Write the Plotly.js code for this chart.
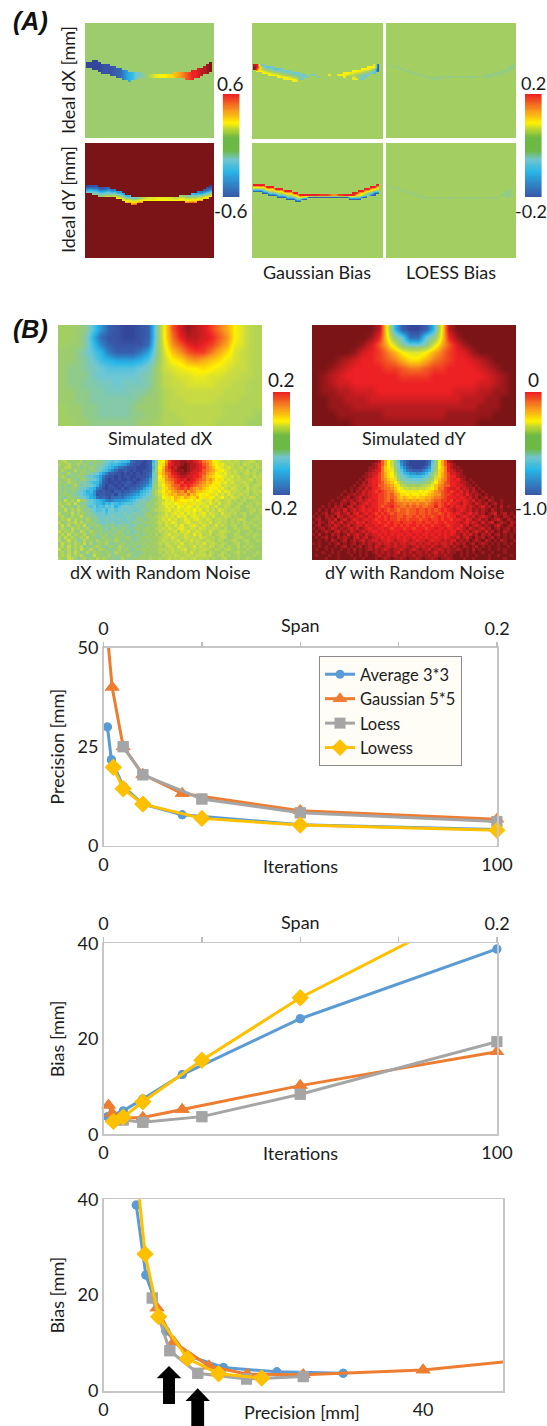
<!DOCTYPE html>
<html><head><meta charset="utf-8">
<script src="https://cdn.plot.ly/plotly-3.0.1.min.js"></script>
<style>html,body{margin:0;padding:0;background:#fff}#g{width:547px;height:1426px}</style>
</head><body><div id="g"></div>
<script>
// ---------- line-chart data ----------
const iterAverage=[1,2,5,10,20,50,100];
const iterGaussian=[1.27,2.2,5,10,20,50,100];
const iterLoess=[5,10,25,50,100];
const iterLowess=[2.5,5,10,25,50,100];
const precAverage=[30,21.7,15,10.5,7.8,5.3,4.1];
const precGaussian=[50.2,40,25,18,13.2,8.8,6.7];
const precLoess=[25,17.9,11.8,8.3,6.1];
const precLowess=[19.8,14.4,10.5,6.9,5.2,3.9];
const biasAverage=[3.7,4,4.9,7.4,12.5,24.2,38.8];
const biasGaussian=[6.1,4.4,3.4,3.5,5.2,10.2,17.3];
const biasLoess=[3,2.5,3.7,8.4,19.4];
const biasLowess=[2.7,3.6,6.8,15.5,28.6,49.7];
const seriesNames=['Average 3*3','Gaussian 5*5','Loess','Lowess'];
const spanTicks=[0,0.05,0.1,0.15,0.2];
const spanLabels=['0','','','','0.2'];

// ---------- image panels: one character per cell, 0-9a-z are colour levels 0..35, '.' is no data ----------
const idealDx=[
"..11......................................",
"11111....................................z",
"11111222................................yz",
"1111122223.............................xyz",
"..1112222334.........................wxxyz",
"....1222233468.....................vvwxxyz",
".....2222334689acde..........pqrstuvvwxxy.",
"........2334689acdefhjlmnnnoopqrstuvvwx...",
"..........34689acdefhjlmnnnoopqrstuvvw....",
"............689ac................tuv......",
"..............9..........................."];
const idealDy=[
"1222.....................................1",
"56552234................................24",
"9a99667856.............................358",
"cdccaabcab78.........................658ad",
"..efddefegcc8......................a9baefj",
"....ghjkilihd9a................hgedfehgkln",
"..........nmjfgcdghklllmmmmllkkmlkjkjmlpo.",
"............nlmjkmnnnnnnnnnnnnnoonnonrq...",
".............pqnorr..............rsts.....",
"...............st........................."];
const gaussDx=[
"xvdc....................................m3",
"zumebcc...............................nnn2",
"yrkggfcbcc..........................nnmje2",
".nnmjhgfeeccd....................nnmkigec4",
"...nnmkjhgfeeccd..............nnmljigfecb.",
".....nnnmkihgfedcd.ed....m..mnmkjhgfecc...",
"........nnnmkigedde..e........m..mhedc....",
"..........mnnnldd................mncc.....",
".............mm..........................."];
const gaussDy=[
"vvvv.....................................v",
"nnonvvv................................vvo",
"ddegnonvvv...........................vvonj",
"443adjhnonvvv......................vvonjdc",
"...33cbdjhnonvv..................vvonjdc33",
".....333cbdjhnovvvvvvvuuutrruuvvvvnnjdc33.",
"........333cbdjnjh33333333333333hdec33....",
"...........333cd33..............3333......",
"..............33.........................."];
const loessDx=[
"gg.......................................f",
".gfg....................................ff",
"...gfg.................................gfg",
".....gfg.............................gffg.",
".......gfg.........................gffg...",
".........gfg....................gfffgf....",
"...........gfgggfggffgggfggffgggffg.......",
"..............ffgf........................"];
const loessDy=[
"gg",
".gfg",
"...gfg..................................f.",
".....gfg...............................ff.",
".......gfg............................fff.",
".........gfg.........................gfffg.",
"...........gfgggfgggfggggfggfggggfgfg"];
const simDx=[
"hhgfb7321123dntwyxwusqnlji",
"hhge94221123dnsvxxwvtrnlji",
"hggea6322224emrtvwvusqmlji",
"ggfdb9533358elprtuusqolkji",
"ggfeca98889bfknoqrqpomlkji",
"gffedcbbbbcdgklmnnonmlkkji",
"gfffdcccccdegjkllmmllkkjji",
"gffeeddcdddegjkkllllkkjjii",
"ggffeedddeefgijkkkkkkjjjii",
"ggffeeeeeefggijjkkkkjjjiii",
"hggffeeeefgggijjjjjjjiiiii",
"hggffeeeeffggiijjjjjjiiiih",
"hhggffffffgghiiijjjjiiiihh"];
const simDy=[
"zzzzzzzzxna3113anxzzzzzzzz",
"zzzzzzzyvofc44cfovyzzzzzzz",
"zzzzzzywtqleccelqtwyzzzzzz",
"zzzzzywvusqnllnqsuvwyzzzzz",
"zzzyxwvvutsqooqstuvvwxyzzz",
"zzyxwvvvvuutsstuuvvvvwxyzz",
"zyxwvvvvvvvuuuuvvvvvvvwxyz",
"zyxwwvvvvvvvvvvvvvvvvwwxyz",
"zyyxxwwwvvvvvvvvvvwwwxxyyz",
"zzyyxxxwwwwwwwwwwwwxxxyyzz",
"zzyyyxxxxxxxxxxxxxxxxyyyzz",
"zzzyyyyyyxxxxxxxxyyyyyyzzz",
"zzzzzyyyyyyyyyyyyyyyyzzzzz"];
const noisyDx=[
"hijgfhgiehfgf gedcbcbaa9 4322123a emnr uwxxyyxxwvusrq nmlkjkikjhijkjhi",
"ighjfgifhgegf edcbaa9875 3221123b fmos vwxxyzyxxwvtsq onlmkjkijhkjiijh",
"hgijgfhegfhfe ecba975432 2211123a gnpt vxwyzzyxxwvusr pnmlkljijkhijhji",
"gihfgjfghegfe dba8642232 1211223b hmqt uwxyyzyxwwvtsr qomnlkjkijikhjig",
"hfgiegfhgfedc a863322121 2121234c goqs tvwxyyxwwvutrq pnmlmkjkihjkijhi",
"gihegfhgedcba 8532212122 1122235c fnpr tuvwxxwwvvusqp onnmlkljkiijhkij",
"fghigfeghedcb 8421212112 1212347d gmor stuvwvxwvutsqr pnomklkjkjijkhji",
"hgfighfeedbaa 7321121223 2123458e gloq rsuvuwvvutsrpq onmlmkljijkjihij",
"gfhegifdfdcb9 5312212132 2234579f hlnp qsttvuvutsrqpo nomklkjkjijkhjji",
"hegfhgedcba95 4212221312 33458abf hkmo qrstutusrqrpon mnlmkjlkijhkijih",
"gfhegfdcb9a73 2322133233 4569abcg ilnp oqrsrtqsrppomn mlnkmljkjijkhjij",
"fghgfedcba972 3322314345 678abcdg ikmo pqprrqspqonmno lmkljlkijkijhijh",
"gfehfgedcb984 3432445467 89abcdef hjnm onqpoqpooqnmon mklnkjlkjhjikjhi",
"hfkgiflhgdcba 9865677889 abcdedfg hjkm lmponnmnlnmklm jlkijkijhijghiih",
"ighjfkgefdcba a8a9ba9abb bcdeefgf ijlm mlnmomlomlmlkm kjlijkihijghihji",
"gjfhgeifgdbca bacbc9bccd cdedegfg hjkm lmknmlnmkmklmj kliikjhijhgjihih",
"hgkfigjhegdcb bcacdbcdcd dcdefegh ijkl mklmlmmlnlmklj kilkjijiihghijhi",
"jfhgkfihgefdc cdbcdcdcec deedfggf hijl klmlmkmlmklmjl kjiljjijhijgihhi",
"hjgfighkfgefd dcdcedcdde edfefghg ijkl klkmlmjlmlklkj liijkjhihgjhghih",
"gihkfjghfigef cdedcdedce defgefgh hjlk mkljkmlklmkjlk ijkijhihjkighiih",
"jgfihkgjfhgfe dcededcedd efefgghg ikjl kmljklmkjklkjl ijkijhjhigjhihgi",
"hkgjfhigkegfh fdfegdfefe defgegfh hjil kjlkmjklmkjlki jlikihijghjihiih",
"gjhfkgifhjegf gefdgfegfe efgfghgg ijkj lkjlmkjlkjlkij kjihjghjihijhghi",
"kgihjfgkhfigf hefgefhfeg deffghgh hjik jklilkmjklkjil ihjkjighjhghighg",
"hjgkfihgjfghe gfhefgfhef efgegfhg ihjk ljkkjlkjmklijk hijkighjighihiih",
"igkhjfgihkfge fhgfehgfgh fefgghgh hijk jlkijlkjkilkji jhikjghiijhghihg",
"jfhkgiefjghfi gfhgfigegf gefggfhg hikj ikjlikjljkjikj ihjighijhgijghih",
"gkhifjhgkfieg hgifegfhge gfgfhggh hjik jikjlijkikjlij kihjighijghihhgh",
"hjfkgihjegfhi gfehgfihfg fgegfhgh gihj kjilkjijlikjik jhijgihhjgihihhg",
"kghjfigkhfjgf ihgfegifhg efgghghg hiji jkijklijkijkji hjigijhgihgihhgg",
"hifjgkhegjfih gfhgeihgfg fgefhggh gihj ikjijkiljikjhj ihgjighijhighgih",
"gjhkfihjgefkg hfgiegfhgi gefghghg hgji jikjijkjikjkik hgijhighihghgihh",
"ihfkjgehifhgj gihfgefigf fgghggih hihi kijikjijkijijh ihgijghhighihggh"];
const noisyDy=[
"zzzzzzzzzzzzzzzzzzzz yxtqn kfb6421111124bf nqtxy zzzzzzzzzzzzzzzzzzzz",
"zzzzzzzzzzzzzzzzzzzy xvtqn kfc7421111125cf nqtvx yzzzzzzzzzzzzzzzzzzz",
"zzzzzzzzzzzzzzzzzzyy xvspn lgc9632111247cg npsvx yyzzzzzzzzzzzzzzzzzz",
"zzzzzzzzzzzzzzzzzzyx wvspo mhdb854333579dh opsvw xyyzzzzzzzzzzzzzzzzz",
"zzzzzzzzzzzzzzzzzyxw wusqo nieca977678acfi oqsuw wxyzzzzzzzzzzzzzzzzz",
"zzzzzzzzzzzzzzzzyyxw vusqo nkfdcbaaaabcdgk oqsuv vxyyzzzzzzzzzzzzzzzz",
"zzzzzzzzzzzzzzzyzxwv vusrp olheddccccdefhl prsuv wvxyzyzzzzzzzzzzzzzz",
"zzzzzzzzzzzzzzyzxywv vutrq pnkhfeeeeefghkn qrtuv vwxxyzyzzzzzzzzzzzzz",
"zzzzzzzzzzzzzyzyxxwv vttsr qomjihghghijkmp rsttv vwwxyyzyzzzzzzzzzzzz",
"zzzzzzzzzzzzyzyxywxv vutss rpnmkkjkjkklmnp ssuvw wvxwxyxzyzzzzzzzzzzz",
"zzzzzzzzzzyzyzxywxwv uvuts sqonnmmmmnmnopr stuvu vwvxwyxyzyzzzzzzzzzz",
"zzzzzzzzzyzyyxyxwxwv vuuts trqoononnonopqr rtuuv wvwxvxyxyzyzzzzzzzzz",
"zzzzzzzzyzyxzyxwyxwv vuuts tsqpqpopoppqqrs stuvv vwvwxwyxzyxzyzzzzzzz",
"zzzzzzyzzyxyxyxwxwvw vuuts usrqrqrqrqqrrst tuuvu wvwvwxwyxyzxyzzyzzzz",
"zzzzzyzyzxyzxwyxwvwv vuutu utssrsrsrssrstu tuvuv vwxvwxywxyxzyxzyzzzz",
"zzzyzyzxyxzxwyxwvxwv vutuu vttsstststssttv tuvwv wvwvxwxyxwyxzyzxzyzz",
"zzyzyzxyxywyxwxwvwvw vuvututsttsttuttututuvu vwxwvwxwyxyxyzxyzyzz",
"zyzyxzyxwyxwywvxwvwv uvuvututttsttuttutuutuvuv wvwxwvxwyxzyxwzyxzyz",
"yzyzxyxzwxyxwxwvwxvw vuvuvuuttuttututuutuvuvuv vxwvwxwyxwxyzxyzxyzy",
"zyxzyxywzxwyxvwxwvwv uvvuvuutuutuuutuuvuuvuvvu wvwxvwyxwyxzyxwyzxyz",
"yzxyzxwyxwyxwxvwvxwv vuvvuvuuvuuuvuuvuuvuvvuvv vwxwvxwxywyxwzyxyzxy",
"zyxzyxywxyxwyxwwxvww vwvuvvuvuvuvvuvuvvuvvwvuv wwvxwyxwxyxyzxwyzyxz",
"yzyxzywxyxyxwxwyxwvw wvvwvuvvvuvvuvvvuvvwvvwvv wvwxywxyxwyxzyxzyxzy",
"zyzyxyzxwyxywxyxwxwv vwvvwvvvwvvwvvvwvvwvvwvwv vxwxwyxwxywyxzyzxyzy",
"yzxzyzxyxzywyxwxywxw wvwvwvwvvwvvwvwvvwvwvwvwv wxywxwyxzxyxzyxzyzyz",
"zyzyxzyzxyxyzxwyxwyx wwvwvwwvwvwwvwvwvwwvwwvwx xwyxwyzxyxzyxzyzyzyz",
"zzyzyzxyzyxzyxyxwyxw wxwwvwxwwvwxwvwwxwvwwxwxw wyxyxzyxyzxyzyzxyzzy",
"yzyzzyzyxzyzyxzyxyxy xwxwwxwxwwxwwxwxwwxwxwwxw yxyxzyxzyxyzyzyzyzyz",
"zzyzyzzyzyxzyzyxzyxy wxyxwxwxxwxyxwxwxxwxyxwxy xyzxyzyxzyzyzzyzzyzz",
"zyzzyzyzzyzyzxzyzyxy xyxwxyxxwxyxwxyxxwyxwxyxy yxyzyzxzyzzyzzyzyzzz",
"zzzyzzyzyzzyzyzyzyzy xyxyxyxwyxyxyxxyxyxwyxyxy yzyzyzyzzyzzyzzzyzzz",
"zyzzzyzzyzzzyzzyzyzz yxyyxyxyyxyyxyxyyxyxyyxyy zzyzyzzyzzzyzzyzzzyz",
"zzzzyzzzyzzzzyzzyzzz yzyxyzyyxyzyyxyzyyxyzyyxy zzzyzzyzzzzyzzzzyzzz"];
const barLevels=[0,1,2,3,4,5,6,7,8,9,10,11,12,13,14,15,16,17,18,19,20,21,22,23,24,25,26,27,28,29,30];

const W=547,H=1426;
const panelScale=[[0,'#2b3a8e'],[2,'#3953a4'],[6,'#2e85c8'],[9,'#27b5e8'],[12,'#6cc7d6'],[14,'#84c9a8'],[16,'#9ccc6e'],[17,'#a3cf62'],[20,'#c9db43'],[23,'#fff200'],[27,'#f7941d'],[31,'#ed2024'],[33,'#b81b1f'],[35,'#7a1416']].map(s=>[s[0]/35,s[1]]);
const barScale=[[0,'#3953a4'],[.25,'#27b5e8'],[.37,'#72c6cb'],[.45,'#6cb945'],[.58,'#6cb945'],[.67,'#c4d92e'],[.72,'#fff200'],[.85,'#f7941d'],[1,'#ed2024']];
const FONT='Lato,"Noto Sans",sans-serif';
const INK='#1c1c1c';

function parseGrid(rows,fillLast){
  const key='0123456789abcdefghijklmnopqrstuvwxyz';
  const clean=rows.map(r=>r.replace(/ /g,''));
  const n=Math.max(...clean.map(r=>r.length));
  return clean.map(r=>{const a=[];for(let i=0;i<n;i++){const ch=i<r.length?r[i]:(fillLast?r[r.length-1]:'.');const k=key.indexOf(ch);a.push(k<0?null:k);}return a;});
}

const layout={width:W,height:H,margin:{l:0,r:0,t:0,b:0},paper_bgcolor:'#fff',plot_bgcolor:'rgba(0,0,0,0)',showlegend:true,
  font:{family:FONT,size:18,color:INK},annotations:[],shapes:[],
  legend:{x:319/W,y:1-656/H,xanchor:'left',yanchor:'top',bgcolor:'#fffdf6',bordercolor:'#8a8a8a',borderwidth:1,font:{family:FONT,size:16.5,color:INK},itemwidth:30,entrywidth:108,entrywidthmode:'pixels',traceorder:'normal'}};
const traces=[];
let axN=0;
function addAxes(L,R,T,B,xr,yr){
  axN++;
  const xk='xaxis'+axN,yk='yaxis'+axN;
  layout[xk]={domain:[L/W,R/W],range:xr,visible:false,anchor:'y'+axN,fixedrange:true};
  layout[yk]={domain:[1-B/H,1-T/H],range:yr,visible:false,anchor:'x'+axN,fixedrange:true};
  return axN;
}
function hm(n,z,opt){
  traces.push(Object.assign({type:'heatmap',z:z,xaxis:'x'+n,yaxis:'y'+n,colorscale:panelScale,zmin:0,zmax:35,showscale:false,hoverinfo:'skip',showlegend:false},opt));
}
function panel(L,R,T,B,bg,g){
  const n=addAxes(L,R,T,B,[0,R-L],[B-T,0]);
  if(bg!==null) hm(n,[[bg]],{x:[0,R-L],y:[0,B-T]});
  hm(n,parseGrid(g.r,g.fill),{x0:g.x0+g.cw/2,dx:g.cw,y0:g.y0+g.ch/2,dy:g.ch,zsmooth:g.smooth?'best':false});
  return n;
}
function label(t,cx,cy,size,rot,extra){
  layout.annotations.push(Object.assign({text:t,x:cx/W,y:1-cy/H,xref:'paper',yref:'paper',xanchor:'center',yanchor:'middle',showarrow:false,textangle:rot||0,font:{family:FONT,size:size||18,color:INK}},extra||{}));
}
function colorbar(L,R,T,B){
  const n=addAxes(L,R,T,B,[0,1],[0,barLevels.length-1]);
  traces.push({type:'heatmap',z:barLevels.map(v=>[v,v]),x:[0,1],y:barLevels,xaxis:'x'+n,yaxis:'y'+n,colorscale:barScale,zmin:0,zmax:30,zsmooth:'best',showscale:false,hoverinfo:'skip'});
}

// (A)
panel(85,214,23,138,16,{r:idealDx,x0:1,y0:37,cw:3,ch:2,smooth:true});
panel(85,214,143,258,35,{r:idealDy,x0:1,y0:42,cw:3,ch:2,smooth:true});
panel(252,383,23,139,17,{r:gaussDx,x0:1,y0:41,cw:3,ch:2,smooth:true});
panel(252,383,143,258,17,{r:gaussDy,x0:1,y0:41,cw:3,ch:2,smooth:true});
panel(386,516,23,138,17,{r:loessDx,x0:2,y0:41,cw:3,ch:2,smooth:true});
panel(386,516,143,258,17,{r:loessDy,x0:2,y0:42,cw:3,ch:2,smooth:true});
colorbar(222.6,239.7,94,197);
colorbar(525,541.6,94,197);
// (B)
panel(58,262,325,426,null,{r:simDx,x0:0,y0:0,cw:204/26,ch:101/13,smooth:true});
panel(312,516,325,426,null,{r:simDy,x0:0,y0:0,cw:204/26,ch:101/13,smooth:true});
panel(58,262,460,560,null,{r:noisyDx,x0:0,y0:0,cw:204/65,ch:100/33,fill:true});
panel(312,516,460,560,null,{r:noisyDy,x0:0,y0:0,cw:204/65,ch:100/33,fill:true});
colorbar(273,290,392,495);
colorbar(525,541.6,392,495);

const headF={font:{family:'"Liberation Sans",sans-serif',size:25,color:'#111'}};
label('<b><i>(A)</i></b>',30,21,25,0,headF);
label('<b><i>(B)</i></b>',30,329,25,0,headF);
label('Ideal dX [mm]',68,80,18,-90);
label('Ideal dY [mm]',68,200,18,-90);
label('Gaussian Bias',317,272,18);
label('LOESS Bias',451,272,18);
label('0.6',230.6,83,19); label('-0.6',230.6,210.7,19);
label('0.2',533,83,18);   label('-0.2',531,210.7,18);
label('0.2',281,380,19);  label('-0.2',281,508,19);
label('0',533,380,19);    label('-1.0',531,508,18);
label('Simulated dX',160,438,18);
label('Simulated dY',414,438,18);
label('dX with Random Noise',160,572,18);
label('dY with Random Noise',414,572,18);

// line charts
const palette=['#5b9bd5','#ed7d31','#a5a5a5','#ffc000'];
const symbols=['circle','triangle-up','square','diamond'];
const sizes=[9,13,11,13];
function chart(L,R,T,B,xr,yr,xt,yt,ytitle,xs,ys,legend,span){
  axN++; const n=axN;
  const tickF={family:FONT,size:18,color:INK};
  layout['xaxis'+n]={domain:[L/W,R/W],range:xr,anchor:'y'+n,tickvals:xt,ticktext:xt.map(String),ticks:'',showgrid:false,zeroline:false,showline:true,mirror:true,linecolor:'#c6c6c6',linewidth:1.5,tickfont:tickF,fixedrange:true,ticklabelstandoff:2};
  layout['yaxis'+n]={domain:[1-B/H,1-T/H],range:yr,anchor:'x'+n,tickvals:yt,ticktext:yt.map(String),ticks:'',showgrid:false,zeroline:false,showline:true,mirror:true,linecolor:'#c6c6c6',linewidth:1.5,tickfont:tickF,fixedrange:true,title:{text:ytitle,font:{family:FONT,size:18,color:INK},standoff:8}};
  xs.forEach((x,i)=>{
    const base={x:x,y:ys[i],xaxis:'x'+n,yaxis:'y'+n,type:'scatter',name:seriesNames[i],hoverinfo:'skip',
      marker:{color:palette[i],symbol:symbols[i],size:sizes[i],line:{width:0}},line:{color:palette[i],width:3}};
    traces.push(Object.assign({},base,{mode:'lines+markers',showlegend:legend,cliponaxis:true}));
    traces.push(Object.assign({},base,{mode:'markers',showlegend:false,cliponaxis:false}));
  });
  if(span){
    axN++; const m=axN;
    layout['xaxis'+m]={overlaying:'x'+n,anchor:'y'+n,side:'top',domain:[L/W,R/W],range:[0,0.2],tickmode:'array',tickvals:spanTicks,ticktext:spanLabels,ticks:'outside',ticklen:5,tickwidth:1.5,tickcolor:'#bdbdbd',showgrid:false,zeroline:false,showline:false,tickfont:tickF,fixedrange:true};
    traces.push({x:[0,0.2],y:[null,null],xaxis:'x'+m,yaxis:'y'+n,type:'scatter',mode:'lines',showlegend:false,hoverinfo:'skip'});
  }
}
const iters=[iterAverage,iterGaussian,iterLoess,iterLowess];
const precs=[precAverage,precGaussian,precLoess,precLowess];
const biases=[biasAverage,biasGaussian,biasLoess,biasLowess];
chart(103.5,497,647.7,845.7,[0,100],[0,50],[0,100],[0,25,50],'Precision [mm]',iters,precs,true,true);
chart(103.5,497,943.3,1134.3,[0,100],[0,40],[0,100],[0,20,40],'Bias [mm]',iters,biases,false,true);
chart(103.5,503,1199.3,1391,[0,50],[0,40],[0,40],[0,20,40],'Bias [mm]',precs,biases,false,false);
label('Span',300,625,18); label('Iterations',300,866,18);
label('Span',300,922,18); label('Iterations',300,1153,18);
label('Precision [mm]',302,1412,18);

// arrows marking the chosen spans
function arrow(tipX,tipY,headY,hw,sw,botY){
  const pts=[[tipX,tipY],[tipX+hw,headY],[tipX+sw,headY],[tipX+sw,botY],[tipX-sw,botY],[tipX-sw,headY],[tipX-hw,headY]];
  layout.shapes.push({type:'path',xref:'paper',yref:'paper',fillcolor:'#000',line:{width:0},
    path:'M'+pts.map(p=>(p[0]/W).toFixed(5)+','+(1-p[1]/H).toFixed(5)).join('L')+'Z'});
}
arrow(169,1366,1378.3,12.3,6,1404);
arrow(197.7,1388.3,1401,12.2,6.4,1426);

Plotly.newPlot('g',traces,layout,{staticPlot:true,displayModeBar:false});
</script></body></html>
